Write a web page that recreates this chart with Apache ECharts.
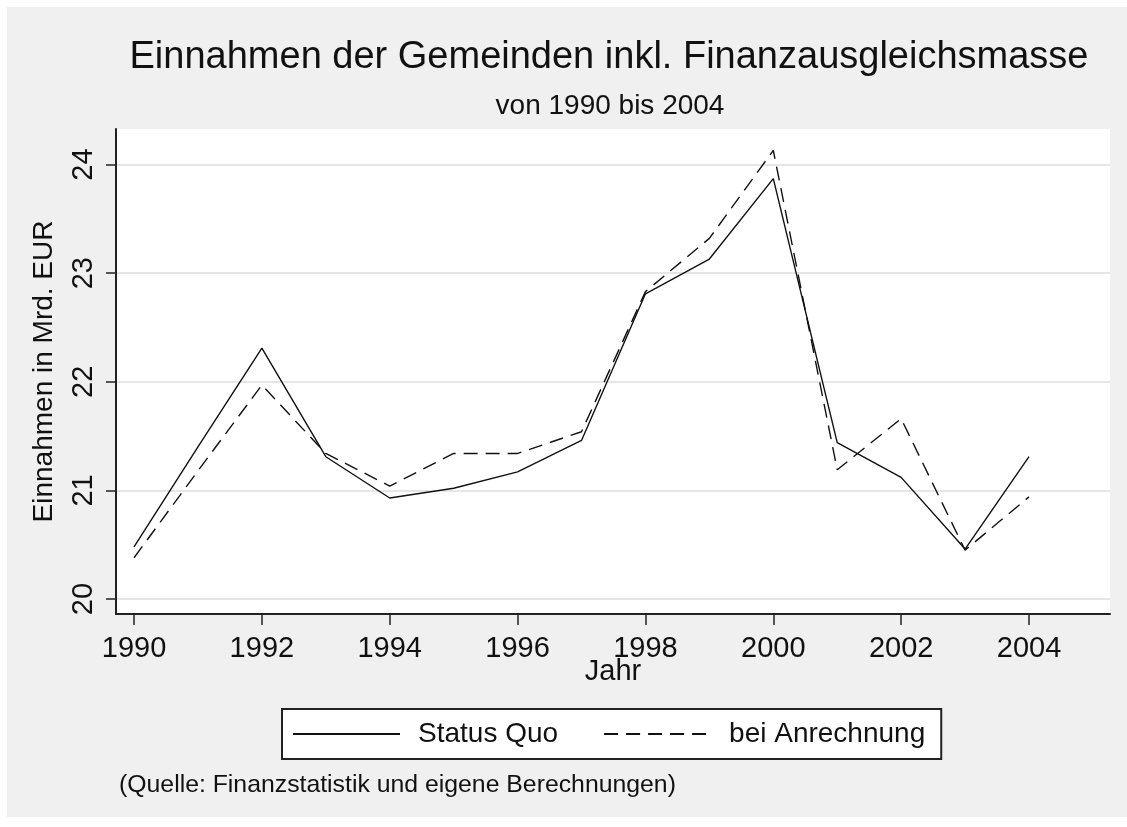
<!DOCTYPE html>
<html>
<head>
<meta charset="utf-8">
<script src="https://cdn.jsdelivr.net/npm/echarts@6/dist/echarts.min.js"></script>
<style>
  html, body { margin: 0; padding: 0; background: #ffffff; }
  #frame { position: absolute; left: 7px; top: 7px; width: 1120px; height: 810px; background: #f0f0f0; }
  #chart { position: absolute; left: 0; top: 0; width: 1127px; height: 827px; }
</style>
</head>
<body>
<div id="frame"></div>
<div id="chart"></div>
<script>
// Jahre und Werte (Mrd. EUR)
const years = [1990, 1991, 1992, 1993, 1994, 1995, 1996, 1997, 1998, 1999, 2000, 2001, 2002, 2003, 2004]
const statusQuo = [20.48, 21.40, 22.31, 21.31, 20.93, 21.02, 21.17, 21.46, 22.81, 23.13, 23.87, 21.44, 21.12, 20.46, 21.31]
const beiAnrechnung = [20.38, 21.18, 21.97, 21.34, 21.04, 21.34, 21.34, 21.54, 22.83, 23.32, 24.13, 21.19, 21.66, 20.45, 20.94]
const xTicks = [1990, 1992, 1994, 1996, 1998, 2000, 2002, 2004]
const yTicks = [20, 21, 22, 23, 24]

const font = 'Liberation Sans, Arial, sans-serif'
const ink = '#111'

const myChart = echarts.init(document.getElementById('chart'))

const option = {
  backgroundColor: 'transparent',
  animation: false,
  textStyle: { fontFamily: font, color: ink },
  title: [
    {
      text: 'Einnahmen der Gemeinden inkl. Finanzausgleichsmasse',
      left: 609,
      top: 39,
      padding: 0,
      textAlign: 'center',
      textStyle: { fontFamily: font, fontSize: 38, fontWeight: 'normal', color: ink },
    },
    {
      text: 'von 1990 bis 2004',
      left: 610,
      top: 92,
      padding: 0,
      textAlign: 'center',
      textStyle: { fontFamily: font, fontSize: 28, fontWeight: 'normal', color: ink },
    },
    {
      text: '(Quelle: Finanzstatistik und eigene Berechnungen)',
      left: 119,
      top: 773,
      padding: 0,
      textStyle: { fontFamily: font, fontSize: 24.8, fontWeight: 'normal', color: ink },
    },
  ],
  legend: {
    left: 282,
    top: 709,
    orient: 'horizontal',
    backgroundColor: '#ffffff',
    borderColor: '#222',
    borderWidth: 2,
    padding: [11, 16, 11, 10],
    itemWidth: 107,
    itemHeight: 14,
    itemGap: 45,
    selectedMode: false,
    // nur Linie, Punkt unsichtbar
    itemStyle: { color: 'rgba(0,0,0,0)', borderWidth: 0 },
    textStyle: { fontFamily: font, fontSize: 28, color: ink, padding: [0, 0, 0, 13] },
    data: ['Status Quo', 'bei Anrechnung'],
  },
  grid: {
    left: 116,
    right: 17,
    top: 129,
    bottom: 213,
    show: true,
    backgroundColor: '#ffffff',
    borderWidth: 0,
  },
  xAxis: {
    type: 'value',
    min: 1989.718,
    max: 2005.267,
    name: 'Jahr',
    nameLocation: 'middle',
    nameGap: 43,
    nameMoveOverlap: false,
    nameTextStyle: { fontFamily: font, fontSize: 29, color: ink },
    axisLine: { show: true, onZero: false, lineStyle: { color: '#222', width: 2 } },
    axisTick: { show: true, length: 11, customValues: xTicks, lineStyle: { color: '#222', width: 1.5 } },
    axisLabel: {
      customValues: xTicks,
      margin: 20,
      fontFamily: font,
      fontSize: 29,
      color: ink,
      formatter: (v) => String(v),
    },
    splitLine: { show: false },
  },
  yAxis: {
    type: 'value',
    min: 19.862,
    max: 24.327,
    name: 'Einnahmen in Mrd. EUR',
    nameLocation: 'middle',
    nameGap: 58,
    nameMoveOverlap: false,
    nameTextStyle: { fontFamily: font, fontSize: 28, color: ink },
    axisLine: { show: true, onZero: false, lineStyle: { color: '#222', width: 2 } },
    axisTick: { show: true, length: 10, customValues: yTicks, lineStyle: { color: '#222', width: 1.5 } },
    axisLabel: {
      customValues: yTicks,
      rotate: 90,
      margin: 18,
      fontFamily: font,
      fontSize: 29,
      color: ink,
    },
    splitLine: { show: true, lineStyle: { color: '#e6e6e6', width: 2 } },
  },
  series: [
    {
      name: 'Status Quo',
      type: 'line',
      symbol: 'none',
      lineStyle: { color: ink, width: 1.4, type: 'solid' },
      itemStyle: { color: ink },
      data: years.map((y, i) => [y, statusQuo[i]]),
    },
    {
      name: 'bei Anrechnung',
      type: 'line',
      symbol: 'none',
      lineStyle: { color: ink, width: 1.4, type: [14, 8] },
      itemStyle: { color: ink },
      data: years.map((y, i) => [y, beiAnrechnung[i]]),
    },
  ],
}

myChart.setOption(option)
</script>
</body>
</html>
